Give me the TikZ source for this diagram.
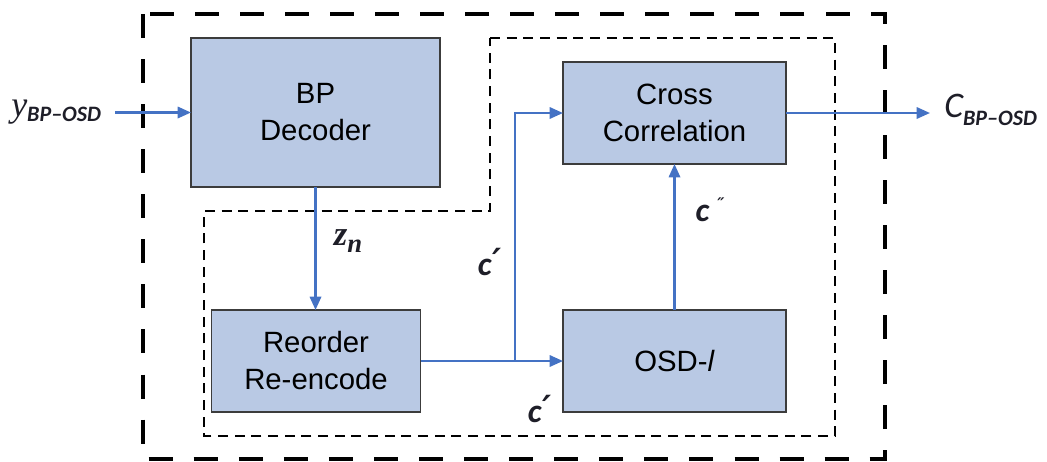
\documentclass[tikz,border=0pt]{standalone}
\usepackage{fontspec}
\setmainfont{Liberation Sans}
\newfontfamily\lblserif{Liberation Serif}
\newfontfamily\lblsans{Carlito}
\newfontfamily\symfont{DejaVu Sans}
\usetikzlibrary{arrows.meta}
\definecolor{boxfill}{RGB}{185,201,228}
\definecolor{boxline}{RGB}{60,60,60}
\definecolor{flow}{RGB}{68,114,196}
\definecolor{lbl}{RGB}{30,30,40}
\tikzset{
  blockbox/.style={draw=boxline, fill=boxfill, line width=0.9pt, outer sep=0pt,
    align=center, font=\fontsize{22pt}{27.75pt}\selectfont},
  flowline/.style={draw=flow, line width=1.7pt},
  flowarrow/.style={flowline, -{Triangle[length=10pt,width=8.5pt]}},
  outerframe/.style={draw=black, line width=2.3pt, dash pattern=on 18pt off 15.8pt},
  innerframe/.style={draw=black, line width=0.9pt, dash pattern=on 7.5pt off 5pt},
  sig/.style={text=lbl, inner sep=0pt}
}
% primes for the codeword labels
\newcommand{\oneprime}{\hspace{1pt}\raisebox{1pt}{\symfont\bfseries\fontsize{26pt}{26pt}\selectfont\char"2032}}
\newcommand{\twoprime}{\raisebox{9pt}{\symfont\bfseries\fontsize{12pt}{12pt}\selectfont\char"2033}}
\begin{document}
\begin{tikzpicture}[x=0.75pt,y=-0.75pt]
\useasboundingbox (0,0) rectangle (1047,461);

% frames
\draw[outerframe] (143,14) rectangle (885,459);
\draw[innerframe] (490,38) -- (835,38) -- (835,436) -- (204,436) -- (204,211) -- (490,211) -- cycle;

% blocks
\node[blockbox, minimum width=186.75pt, minimum height=111.75pt] (bp) at (315.5,112.5) {BP\\Decoder};
\node[blockbox, minimum width=167.25pt, minimum height=76.5pt] (cc) at (674.5,113) {Cross\\Correlation};
\node[blockbox, minimum width=156.75pt, minimum height=76.5pt] (ro) at (316,361) {Reorder\\Re-encode};
\node[blockbox, minimum width=167.25pt, minimum height=76.5pt] (osd) at (674.5,361) {OSD-\textit{l}};

% end points of the connectors
\coordinate (in) at (115,112.5);
\coordinate (out) at (930,113);
\coordinate (br) at (515,361);

% connectors
\draw[flowarrow] (in) -- (bp.west);
\draw[flowarrow] (bp.south) -- (bp.south |- ro.north);
\draw[flowarrow] (ro.east) -- (osd.west);
\draw[flowarrow] (br) |- (cc.west);
\draw[flowarrow] (osd.north) -- (cc.south);
\draw[flowarrow] (cc.east) -- (out);

% signal labels
\node[sig, anchor=west] (yin) at (11,112) {\lblserif\itshape\fontsize{27pt}{27pt}\selectfont y\raisebox{-4pt}{\lblsans\itshape\bfseries\fontsize{16.5pt}{16.5pt}\selectfont BP\textendash OSD}};
\node[sig, anchor=west] (cout) at (944,110) {\lblsans\itshape\fontsize{27pt}{27pt}\selectfont C\raisebox{-6pt}{\bfseries\fontsize{16.5pt}{16.5pt}\selectfont BP\textendash OSD}};
\node[sig] (zn) at (348,241) {\lblserif\itshape\bfseries\fontsize{26pt}{26pt}\selectfont z\raisebox{-5pt}{\fontsize{20pt}{20pt}\selectfont n}};
\node[sig] (c1) at (490,262) {\lblsans\itshape\bfseries\fontsize{25pt}{25pt}\selectfont c\oneprime};
\node[sig] (c2) at (540,409) {\lblsans\itshape\bfseries\fontsize{25pt}{25pt}\selectfont c\oneprime};
\node[sig] (c3) at (710,210) {\lblsans\itshape\bfseries\fontsize{25pt}{25pt}\selectfont c\hspace{6pt}\twoprime};
\end{tikzpicture}
\end{document}
